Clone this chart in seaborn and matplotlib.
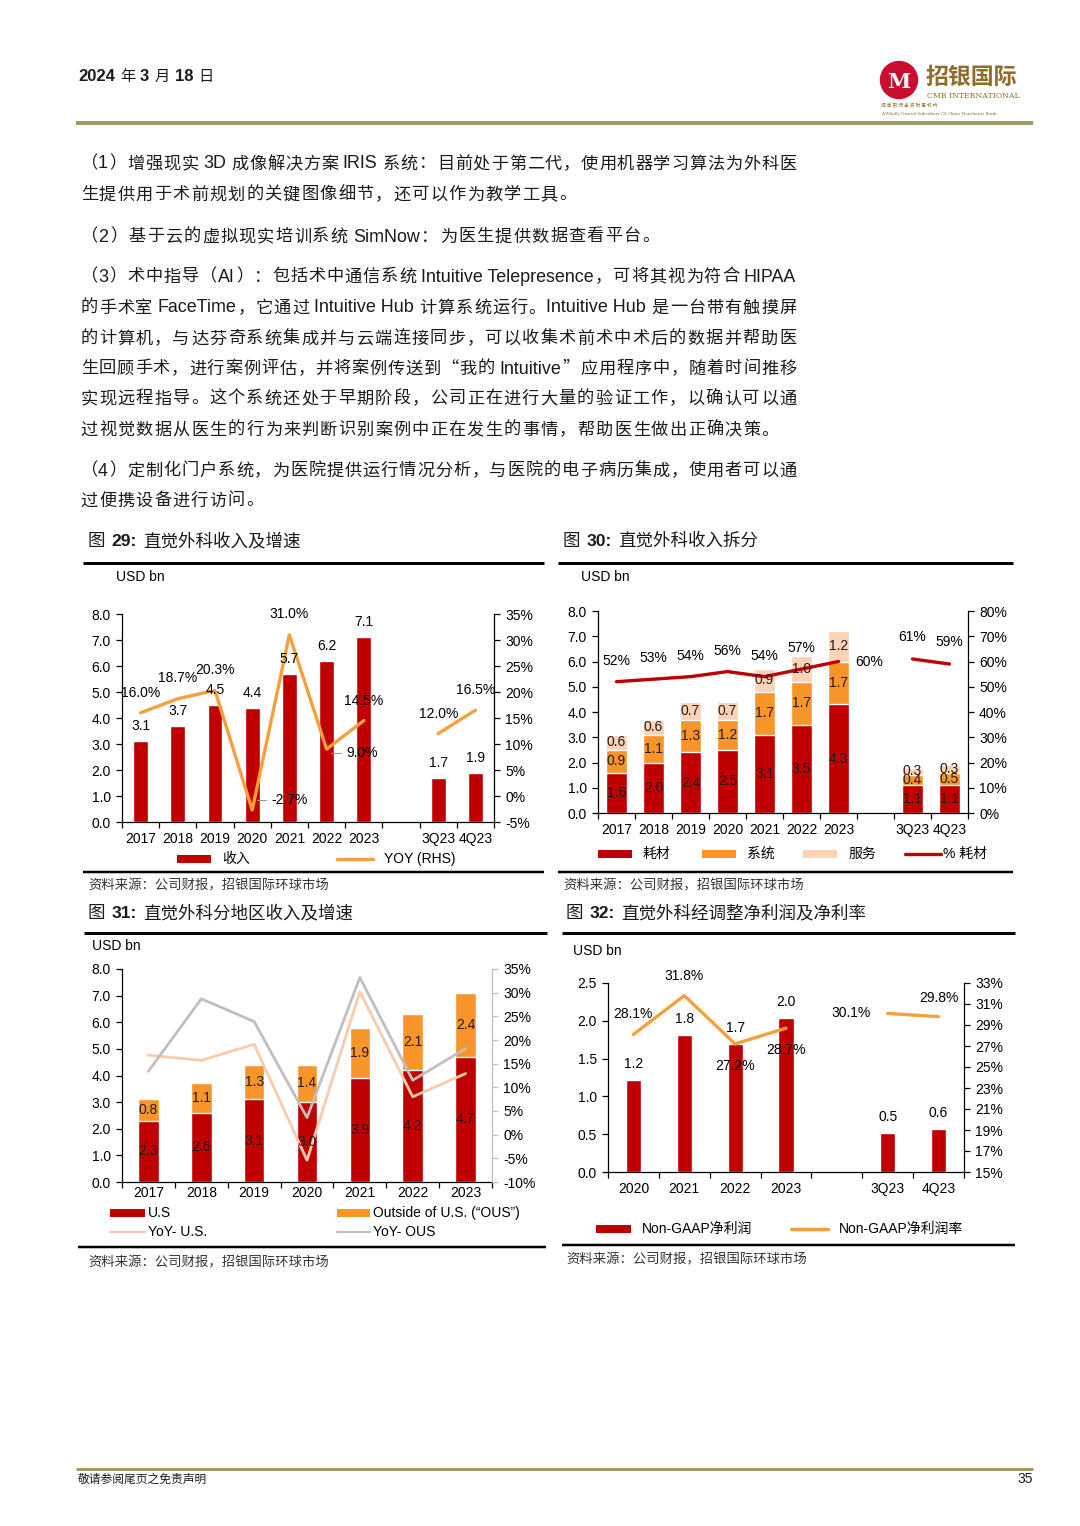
import re
import matplotlib
matplotlib.use("Agg")
import matplotlib.pyplot as plt
from matplotlib.patches import Rectangle, Circle
import seaborn as sns
import numpy as np
import pandas as pd

# ---------------- data ----------------
years = ["2017", "2018", "2019", "2020", "2021", "2022", "2023"]
quarters = ["3Q23", "4Q23"]

# fig 29 revenue (USD bn) and yoy (%)
revenue = [3.1, 3.7, 4.5, 4.4, 5.7, 6.2, 7.1]
revenue_q = [1.7, 1.9]
revenue_yoy = [16.0, 18.7, 20.3, -2.7, 31.0, 9.0, 14.5]
revenue_yoy_q = [12.0, 16.5]

# fig 30 revenue split (USD bn) and consumables share (%)
consumables = [1.6, 2.0, 2.4, 2.5, 3.1, 3.5, 4.3]
consumables_q = [1.1, 1.1]
systems = [0.9, 1.1, 1.3, 1.2, 1.7, 1.7, 1.7]
systems_q = [0.4, 0.5]
services = [0.6, 0.6, 0.7, 0.7, 0.9, 1.0, 1.2]
services_q = [0.3, 0.3]
consumables_pct = [52, 53, 54, 56, 54, 57, 60]
consumables_pct_q = [61, 59]

# fig 31 revenue by region (USD bn) and yoy (%)
us_rev = [2.3, 2.6, 3.1, 3.0, 3.9, 4.2, 4.7]
ous_rev = [0.8, 1.1, 1.3, 1.4, 1.9, 2.1, 2.4]
us_yoy = [16.8, 15.7, 19.1, -5.4, 30.2, 8.0, 12.9]
ous_yoy = [13.4, 28.7, 23.9, 3.6, 33.2, 11.5, 18.2]

# fig 32 non-GAAP net profit (USD bn) and margin (%)
np_years = ["2020", "2021", "2022", "2023"]
nongaap_np = [1.22, 1.81, 1.69, 2.04]
nongaap_np_q = [0.52, 0.57]
nongaap_margin = [28.1, 31.8, 27.2, 28.7]
nongaap_margin_q = [30.1, 29.8]

body_lines = [
    "（1）增强现实 3D 成像解决方案 IRIS 系统：目前处于第二代，使用机器学习算法为外科医",
    "生提供用于术前规划的关键图像细节，还可以作为教学工具。",
    "（2）基于云的虚拟现实培训系统 SimNow：为医生提供数据查看平台。",
    "（3）术中指导（AI）：包括术中通信系统 Intuitive Telepresence，可将其视为符合 HIPAA",
    "的手术室 FaceTime，它通过 Intuitive Hub 计算系统运行。Intuitive Hub 是一台带有触摸屏",
    "的计算机，与达芬奇系统集成并与云端连接同步，可以收集术前术中术后的数据并帮助医",
    "生回顾手术，进行案例评估，并将案例传送到“我的 Intuitive”应用程序中，随着时间推移",
    "实现远程指导。这个系统还处于早期阶段，公司正在进行大量的验证工作，以确认可以通",
    "过视觉数据从医生的行为来判断识别案例中正在发生的事情，帮助医生做出正确决策。",
    "（4）定制化门户系统，为医院提供运行情况分析，与医院的电子病历集成，使用者可以通",
    "过便携设备进行访问。",
]
paragraph_ends = [1, 2, 8, 10]
source_text = "资料来源：公司财报，招银国际环球市场"

# ---------------- style ----------------
LATIN = "Liberation Sans"
CJK = "Noto Sans CJK SC"
FAM = [LATIN, CJK, "DejaVu Sans"]
sns.set_theme(style="ticks")
plt.rcParams["font.family"] = FAM
plt.rcParams["axes.unicode_minus"] = False
plt.rcParams["axes.edgecolor"] = "black"
plt.rcParams["axes.linewidth"] = 0.9
plt.rcParams["xtick.color"] = "black"
plt.rcParams["ytick.color"] = "black"
plt.rcParams["text.color"] = "black"

RED = "#C00000"
ORANGE = "#F7952B"
LINE_ORANGE = "#F5A03C"
PEACH = "#FAD2B6"
US_LINE = "#F8CBAD"
GREY = "#BFBFBF"
OLIVE = "#A09B63"
TXT = "#1a1a1a"
TICK = 10

W, H = 1080, 1526
fig = plt.figure(figsize=(W / 100, H / 100), dpi=100)
page = fig.add_axes([0, 0, 1, 1])
page.set_xlim(0, W)
page.set_ylim(H, 0)
page.axis("off")
renderer = fig.canvas.get_renderer()


def rect(x0, y0, x1, y1):
    return [x0 / W, 1 - y1 / H, (x1 - x0) / W, (y1 - y0) / H]


def hline(x0, x1, y, lw, color="black"):
    page.plot([x0, x1], [y, y], color=color, lw=lw / 1.389, solid_capstyle="butt")


def runs(x, y, parts):
    # draw text pieces side by side, each item (text, gap_after, kwargs)
    for s, gap, kw in parts:
        t = page.text(x, y, s, va="baseline", ha="left", **kw)
        x += t.get_window_extent(renderer).width + gap


# ---------------- header / footer ----------------
hd_num = dict(fontsize=12, family=LATIN, weight="bold", color=TXT)
hd_cjk = dict(fontsize=11, family=CJK, color=TXT)
runs(78, 81, [("2024", 5, hd_num), ("年", 5, hd_cjk), ("3", 5, hd_num),
              ("月", 5, hd_cjk), ("18", 5, hd_num), ("日", 0, hd_cjk)])

page.add_patch(Circle((899, 80), 18.5, color="#C8102E"))
page.text(899, 82, "M", color="white", fontsize=15, weight="bold",
          family="DejaVu Serif", ha="center", va="center")
page.text(925, 77, "招银国际", color="#8E6C2C", fontsize=16.5, weight="bold",
          family=CJK, ha="left", va="center")
page.text(927, 96, "CMB INTERNATIONAL", color="#8E6C2C", fontsize=5.6,
          family="DejaVu Serif", ha="left", va="center")
page.text(881, 106, "招 商 银 行 全 资 附 属 机 构", color="#8E6C2C", fontsize=3.4,
          family=CJK, ha="left", va="center")
page.text(881, 114, "A Wholly Owned Subsidiary Of China Merchants Bank", color="#8E6C2C",
          fontsize=3.0, family="DejaVu Serif", ha="left", va="center")
hline(76, 1033, 123, 4, OLIVE)

hline(76, 1033, 1469, 3, OLIVE)
page.text(78, 1479, "敬请参阅尾页之免责声明", fontsize=8.5, family=CJK, color=TXT,
          ha="left", va="center")
page.text(1033, 1479, "35", fontsize=10, family=LATIN, color=TXT, ha="right", va="center")

# ---------------- body text ----------------
CJK_ADV = 18.4


def body_line(s, y, justify, x0=80, x1=797):
    toks = re.findall(r"[!-~]+(?: [!-~]+)*| |[^\x00-\x7f]", s)
    items = []
    for t in toks:
        if t == " ":
            items.append(("gap", None, 4.5))
        elif ord(t[0]) > 127:
            o = page.text(0, y + 6.5, t, fontsize=12.4, family=CJK, color=TXT,
                          ha="center", va="baseline")
            items.append(("cjk", o, CJK_ADV))
        else:
            o = page.text(0, y + 6.5, t, fontsize=12.9, family=LATIN, color=TXT,
                          ha="left", va="baseline")
            items.append(("lat", o, o.get_window_extent(renderer).width + 1))
    total = sum(w for _, _, w in items)
    extra = (x1 - x0 - total) / (len(items) - 1) if justify else 0
    x = x0
    for kind, o, w in items:
        if kind == "cjk":
            o.set_x(x + w / 2)
        elif kind == "lat":
            o.set_x(x)
        x += w + extra


body_y = [162, 193, 235, 275, 306, 337, 367, 397, 428, 469, 499]
for i, (s, y) in enumerate(zip(body_lines, body_y)):
    body_line(s, y, i not in paragraph_ends)

# ---------------- captions, frame lines, sources ----------------
cap_cjk = dict(fontsize=12.6, family=CJK, color=TXT)
cap_num = dict(fontsize=12.6, family=LATIN, weight="bold", color=TXT)


def caption(x, y, num, title):
    runs(x, y + 6, [("图", 6, cap_cjk), (num + ":", 6, cap_num), (title, 0, cap_cjk)])


caption(88, 540, "29", "直觉外科收入及增速")
caption(563, 540, "30", "直觉外科收入拆分")
caption(88, 912, "31", "直觉外科分地区收入及增速")
caption(566, 912, "32", "直觉外科经调整净利润及净利率")

hline(83, 544, 563, 3)
hline(558, 1013, 563, 3)
hline(83, 544, 872, 2.5)
hline(558, 1013, 872, 2.5)
hline(84, 547, 933, 3)
hline(562, 1015, 933, 3)
hline(78, 546, 1247, 2.5)
hline(562, 1015, 1245, 2.5)

for x, y in [(88, 885), (563, 885), (88, 1262), (566, 1259)]:
    page.text(x, y, source_text, fontsize=9.6, family=CJK, color="#333333",
              ha="left", va="center")

for x, y in [(116, 577), (581, 577), (92, 946), (573, 951)]:
    page.text(x, y, "USD bn", fontsize=TICK, family=LATIN, ha="left", va="center")


def leg_patch(x, y, color, label, w=34, h=8):
    page.add_patch(Rectangle((x, y - h / 2), w, h, color=color, lw=0))
    page.text(x + w + 11, y, label, fontsize=TICK, family=FAM, ha="left", va="center")


def leg_line(x, y, color, label, w=36, lw=2.4, gap=11):
    page.plot([x, x + w], [y, y], color=color, lw=lw / 1.389 * 1.4)
    page.text(x + w + gap, y, label, fontsize=TICK, family=FAM, ha="left", va="center")


# ---------------- chart helpers ----------------
def finish(ax, ax2, labels, ylim, yticks, yfmt, y2lim, y2ticks, y2fmt,
           right_color="black", xpad=7):
    n = len(labels)
    ax.set_xlim(-0.5, n - 0.5)
    ax.set_xticks(range(n))
    ax.set_xticklabels(labels)
    ax.set_xticks(np.arange(-0.5, n), minor=True)
    ax.tick_params(axis="x", which="major", length=0, pad=xpad, labelsize=TICK)
    ax.tick_params(axis="x", which="minor", length=4, width=0.9, bottom=True)
    ax.set_ylim(ylim)
    ax.set_yticks(yticks)
    ax.set_yticklabels([yfmt.format(v) for v in yticks])
    ax.tick_params(axis="y", length=4, width=0.9, pad=4, labelsize=TICK, left=True)
    ax2.set_ylim(y2lim)
    ax2.set_yticks(y2ticks)
    ax2.set_yticklabels([y2fmt.format(v) for v in y2ticks])
    ax2.tick_params(axis="y", length=4, width=0.9, pad=4, labelsize=TICK, right=True,
                    color=right_color, labelcolor="black")
    for a in (ax, ax2):
        a.set_xlabel("")
        a.set_ylabel("")
        a.patch.set_visible(False)
        a.spines["top"].set_visible(False)
    ax.spines["right"].set_visible(False)
    ax2.spines["left"].set_visible(False)
    ax2.spines["bottom"].set_visible(False)
    ax2.spines["right"].set_color(right_color)


def label(ax, ax2, x, y, s, color="black"):
    ax2.text(x, y, s, transform=ax.transData, ha="center", va="center",
             fontsize=TICK, family=LATIN, color=color)


# ---------------- fig 29 ----------------
ax = fig.add_axes(rect(122, 614, 494, 822))
order = years + [""] + quarters
df = pd.DataFrame({"period": years + quarters, "revenue": revenue + revenue_q})
sns.barplot(data=df, x="period", y="revenue", order=order, color=RED, saturation=1,
            width=0.4, ax=ax)
ax2 = ax.twinx()
xa = [order.index(c) for c in years]
xq = [order.index(c) for c in quarters]
sns.lineplot(x=xa, y=revenue_yoy, ax=ax2, color=LINE_ORANGE, linewidth=2.4)
sns.lineplot(x=xq, y=revenue_yoy_q, ax=ax2, color=LINE_ORANGE, linewidth=2.4)
finish(ax, ax2, order, (0, 8), np.arange(0, 8.1, 1), "{:.1f}",
       (-5, 35), np.arange(-5, 36, 5), "{:.0f}%")
for c, v in zip(years + quarters, revenue + revenue_q):
    label(ax, ax2, order.index(c), v + 0.58, f"{v:.1f}")
offs = [(0, 3.9), (0, 3.9), (0, 3.9), (1.0, 1.9), (0, 4.0), (0.95, -0.7), (0, 3.8),
        (0, 3.8), (0, 3.8)]
for (dx, dy), xi, v in zip(offs, xa + xq, revenue_yoy + revenue_yoy_q):
    ax2.text(xi + dx, v + dy, f"{v:.1f}%", ha="center", va="center", fontsize=TICK)
ax2.plot([3.12, 3.38], [-0.8, -0.8], color="#999999", lw=0.8)
ax2.plot([5.12, 5.38], [8.3, 8.3], color="#999999", lw=0.8)
leg_patch(177, 859, RED, "收入")
leg_line(337, 859, LINE_ORANGE, "YOY (RHS)")

# ---------------- fig 30 ----------------
ax = fig.add_axes(rect(598, 611, 968, 813))
cats = years + quarters
c = np.array(consumables + consumables_q)
s = np.array(systems + systems_q)
v = np.array(services + services_q)
for h, col in [(c + s + v, PEACH), (c + s, ORANGE), (c, RED)]:
    sns.barplot(x=cats, y=h, order=order, color=col, saturation=1, width=0.55, ax=ax)
ax2 = ax.twinx()
sns.lineplot(x=xa, y=consumables_pct, ax=ax2, color=RED, linewidth=2.4)
sns.lineplot(x=xq, y=consumables_pct_q, ax=ax2, color=RED, linewidth=2.4)
finish(ax, ax2, order, (0, 8), np.arange(0, 8.1, 1), "{:.1f}",
       (0, 80), np.arange(0, 81, 10), "{:.0f}%")
for i, cat in enumerate(cats):
    xi = order.index(cat)
    label(ax, ax2, xi, c[i] / 2, f"{c[i]:.1f}", "#2a1a1a")
    label(ax, ax2, xi, c[i] + s[i] / 2, f"{s[i]:.1f}", "#2a1a1a")
    label(ax, ax2, xi, c[i] + s[i] + v[i] / 2, f"{v[i]:.1f}", "#2a1a1a")
offs = [(0, 8.3)] * 6 + [(0.82, 0), (0, 8.7), (0, 8.7)]
for (dx, dy), xi, p in zip(offs, xa + xq, consumables_pct + consumables_pct_q):
    ax2.text(xi + dx, p + dy, f"{p:.0f}%", ha="center", va="center", fontsize=TICK)
leg_patch(598, 854, RED, "耗材")
leg_patch(702, 854, ORANGE, "系统")
leg_patch(803, 854, PEACH, "服务")
leg_line(905, 854, RED, "% 耗材", gap=2)

# ---------------- fig 31 ----------------
ax = fig.add_axes(rect(122, 969, 492, 1182))
us = np.array(us_rev)
ous = np.array(ous_rev)
sns.barplot(x=years, y=us + ous, order=years, color=ORANGE, saturation=1, width=0.39, ax=ax)
sns.barplot(x=years, y=us, order=years, color=RED, saturation=1, width=0.39, ax=ax)
ax2 = ax.twinx()
xy = list(range(len(years)))
sns.lineplot(x=xy, y=us_yoy, ax=ax2, color=US_LINE, linewidth=2.0)
sns.lineplot(x=xy, y=ous_yoy, ax=ax2, color=GREY, linewidth=2.0)
finish(ax, ax2, years, (0, 8), np.arange(0, 8.1, 1), "{:.1f}",
       (-10, 35), np.arange(-10, 36, 5), "{:.0f}%", right_color=GREY, xpad=3)
for i in xy:
    label(ax, ax2, i, us[i] / 2, f"{us[i]:.1f}", "#2a1a1a")
    label(ax, ax2, i, us[i] + ous[i] / 2, f"{ous[i]:.1f}", "#2a1a1a")
page.add_patch(Rectangle((110, 1209), 35, 8, color=RED, lw=0))
page.text(148, 1213, "U.S", fontsize=TICK, family=LATIN, ha="left", va="center")
page.add_patch(Rectangle((337, 1209), 33, 8, color=ORANGE, lw=0))
page.text(373, 1213, "Outside of U.S. (“OUS”)", fontsize=TICK, family=LATIN,
          ha="left", va="center")
page.plot([110, 145], [1232, 1232], color=US_LINE, lw=1.6)
page.text(148, 1232, "YoY- U.S.", fontsize=TICK, family=LATIN, ha="left", va="center")
page.plot([337, 370], [1232, 1232], color=GREY, lw=1.6)
page.text(373, 1232, "YoY- OUS", fontsize=TICK, family=LATIN, ha="left", va="center")

# ---------------- fig 32 ----------------
ax = fig.add_axes(rect(608, 983, 964, 1172))
order32 = np_years + [""] + quarters
sns.barplot(x=np_years + quarters, y=nongaap_np + nongaap_np_q, order=order32, color=RED,
            saturation=1, width=0.3, ax=ax)
ax2 = ax.twinx()
xa32 = [order32.index(c) for c in np_years]
xq32 = [order32.index(c) for c in quarters]
sns.lineplot(x=xa32, y=nongaap_margin, ax=ax2, color=LINE_ORANGE, linewidth=2.4)
sns.lineplot(x=xq32, y=nongaap_margin_q, ax=ax2, color=LINE_ORANGE, linewidth=2.4)
finish(ax, ax2, order32, (0, 2.5), np.arange(0, 2.51, 0.5), "{:.1f}",
       (15, 33), np.arange(15, 34, 2), "{:.0f}%")
for cat, val in zip(np_years + quarters, nongaap_np + nongaap_np_q):
    label(ax, ax2, order32.index(cat), val + 0.21, f"{val:.1f}")
offs = [(0, 1.9), (0, 1.9), (0, -2.1), (0, -2.1), (-0.72, 0), (0, 1.8)]
for (dx, dy), xi, m in zip(offs, xa32 + xq32, nongaap_margin + nongaap_margin_q):
    ax2.text(xi + dx, m + dy, f"{m:.1f}%", ha="center", va="center", fontsize=TICK)
leg_patch(596, 1229, RED, "Non-GAAP净利润", w=35, h=8)
leg_line(791, 1229, LINE_ORANGE, "Non-GAAP净利润率", w=37)

fig.savefig("out.png", dpi=100)
